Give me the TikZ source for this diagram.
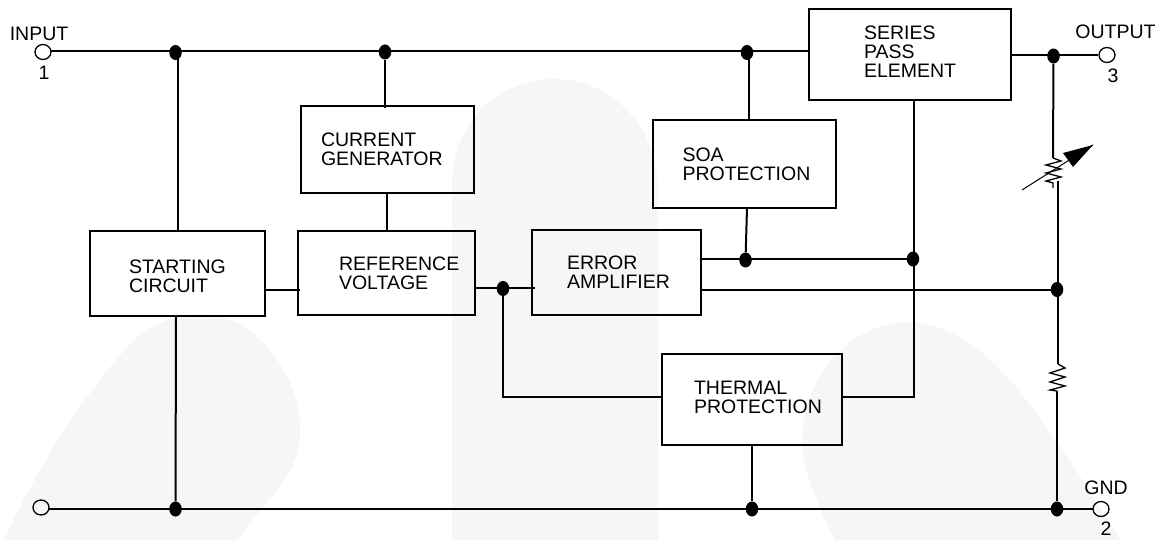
\documentclass[tikz,border=0pt]{standalone}
\usepackage{fontspec}
\setmainfont{Liberation Sans}
\usetikzlibrary{shapes.geometric}
\definecolor{markgrey}{HTML}{F6F6F6}
\tikzset{
  blockbox/.style={draw,line width=2pt,align=left,inner ysep=0pt,font=\fontsize{19.5}{19}\selectfont},
  wire/.style={line width=2pt},
  thinwire/.style={line width=1.3pt},
  dotnode/.style={ellipse,fill=black,inner sep=0pt,minimum width=12.5pt,minimum height=15pt},
  termnode/.style={ellipse,draw,line width=1.3pt,inner sep=0pt,minimum width=16pt,minimum height=15pt},
  pinlabel/.style={inner sep=0pt,font=\fontsize{19.5}{19}\selectfont},
}
\begin{document}
\begin{tikzpicture}[x=1pt,y=-1pt]
\useasboundingbox (0,0) rectangle (1162,540);
% watermark
\fill[markgrey] (4,540) .. controls (45,450) and (100,375) .. (134,340) .. controls (165,312) and (215,305) .. (249,330) .. controls (285,358) and (302,400) .. (300,435) .. controls (298,475) and (270,495) .. (237,540) -- cycle;
\fill[markgrey] (452,540) -- (452,185) .. controls (452,120) and (500,79) .. (555,79) .. controls (610,79) and (658,125) .. (658,190) -- (658,540) -- cycle;
\fill[markgrey] (835,540) .. controls (810,490) and (800,460) .. (803,430) .. controls (808,365) and (860,322) .. (907,322) .. controls (960,322) and (1000,365) .. (1030,405) .. controls (1065,450) and (1095,500) .. (1120,540) -- cycle;
% blocks
\node[blockbox,minimum height=91pt,inner xsep=55pt,text width=92pt] (seriesbox) at (910,54.5) {SERIES\\PASS\\ELEMENT\rule[-5pt]{0pt}{5pt}};
\node[blockbox,minimum height=87pt,inner xsep=20pt,text width=133pt] (currentbox) at (387.5,149.5) {CURRENT\\GENERATOR};
\node[blockbox,minimum height=88pt,inner xsep=29.5pt,text width=124pt] (soabox) at (744.5,164) {SOA\\PROTECTION};
\node[blockbox,minimum height=85pt,inner xsep=39pt,text width=97pt] (startbox) at (177.5,273.5) {\rule{0pt}{20pt}STARTING\\CIRCUIT};
\node[blockbox,minimum height=84pt,inner xsep=41pt,text width=95pt] (refbox) at (386.5,273) {REFERENCE\\VOLTAGE};
\node[blockbox,minimum height=85pt,inner xsep=35pt,text width=99pt] (errorbox) at (616.5,272.5) {ERROR\\AMPLIFIER};
\node[blockbox,minimum height=91pt,inner xsep=32pt,text width=116pt] (thermalbox) at (752,399.5) {THERMAL\\PROTECTION\rule[-5pt]{0pt}{5pt}};
% terminals
\node[termnode] (inputpin) at (43,52) {};
\node[termnode] (outputpin) at (1107,55) {};
\node[termnode] (gndpin) at (1101,509) {};
\node[termnode] (leftpin) at (41,507.5) {};
\node[pinlabel] (inputlbl) at (39,34) {INPUT};
\node[pinlabel] (inputnum) at (44,73) {1};
\node[pinlabel] (outputlbl) at (1115.5,32) {OUTPUT};
\node[pinlabel] (outputnum) at (1113,76) {3};
\node[pinlabel] (gndlbl) at (1106,488) {GND};
\node[pinlabel] (gndnum) at (1106,529) {2};
% junctions
\node[dotnode] (dotstart) at (175.5,52.5) {};
\node[dotnode] (dotcurrent) at (385,52) {};
\node[dotnode] (dotsoa) at (747,52.5) {};
\node[dotnode] (dotout) at (1053.5,56) {};
\node[dotnode] (dotref) at (503,288.5) {};
\node[dotnode] (dotmid) at (745.5,260) {};
\node[dotnode] (dotpass) at (913,259) {};
\node[dotnode] (dotsense) at (1057,289.5) {};
\node[dotnode] (dotgndl) at (175.5,509) {};
\node[dotnode] (dotgndm) at (752,509) {};
\node[dotnode] (dotgndr) at (1057,509) {};
% ports
\coordinate (busin) at (51,51);
\coordinate (busser) at (809,51);
\coordinate (outser) at (1011,55);
\coordinate (startup) at (178,231);
\coordinate (startupb) at (178,51);
\coordinate (startdn) at (176,316);
\coordinate (startr) at (264,290);
\coordinate (refl) at (300,290);
\coordinate (currin) at (385,108);
\coordinate (currout) at (387,193);
\coordinate (refin) at (387,231);
\coordinate (soain) at (749,120);
\coordinate (soainb) at (749,51);
\coordinate (soaout) at (747,208);
\coordinate (errtop) at (701,259);
\coordinate (errlow) at (701,289.5);
\coordinate (refout) at (475,288);
\coordinate (errin) at (535,288);
\coordinate (thl) at (662,397);
\coordinate (thr) at (842,397);
\coordinate (turnl) at (503,397);
\coordinate (turnr) at (914,397);
\coordinate (serdn) at (914,100);
\coordinate (thdn) at (752,445);
\coordinate (gndbusl) at (49,509);
\coordinate (gndbusr) at (1093,509);
% wires
\draw[wire] (busin) -- (busser);
\draw[wire] (outser) -- (outputpin.west);
\draw[wire] (startupb) -- (startup);
\draw[wire] (startdn) -- (dotgndl);
\draw[wire] (startr) -- (refl);
\draw[wire] (dotcurrent) -- (currin);
\draw[wire] (currout) -- (refin);
\draw[wire] (soainb) -- (soain);
\draw[wire] (soaout) -- (dotmid);
\draw[wire] (errtop) -- (dotpass);
\draw[wire] (errlow) -- (dotsense);
\draw[wire] (refout) -- (errin);
\draw[wire] (dotref) -- (turnl) -- (thl);
\draw[wire] (thr) -- (turnr) -- (serdn);
\draw[wire] (thdn) -- (dotgndm);
\draw[wire] (gndbusl) -- (gndbusr);
% output divider
\coordinate (rtopa) at (1053,158);
\coordinate (rtopb) at (1053,183);
\coordinate (rtopc) at (1053,188);
\coordinate (sensetop) at (1058,181);
\coordinate (sensedn) at (1058,364);
\coordinate (rlowb) at (1057,391);
\coordinate (arrowa) at (1022,190);
\coordinate (arrowb) at (1093,145);
\draw[wire] (dotout) -- (rtopa);
\draw[thinwire] (rtopa) -- ++(8,3) -- ++(-15,4) -- ++(15,4) -- ++(-15,4) -- ++(15,4) -- ++(-15,4) -- (rtopb) -- (rtopc);
\draw[wire] (sensetop) -- (sensedn);
\draw[thinwire] (sensedn) -- ++(7,4) -- ++(-15,5) -- ++(15,4) -- ++(-15,5) -- ++(15,4) -- ++(-15,4) -- (rlowb);
\draw[wire] (rlowb) -- (dotgndr);
\draw[line width=1pt] (arrowa) -- (arrowb);
\fill (arrowb) -- (1063,153) -- (1073,167) -- cycle;
\end{tikzpicture}
\end{document}
